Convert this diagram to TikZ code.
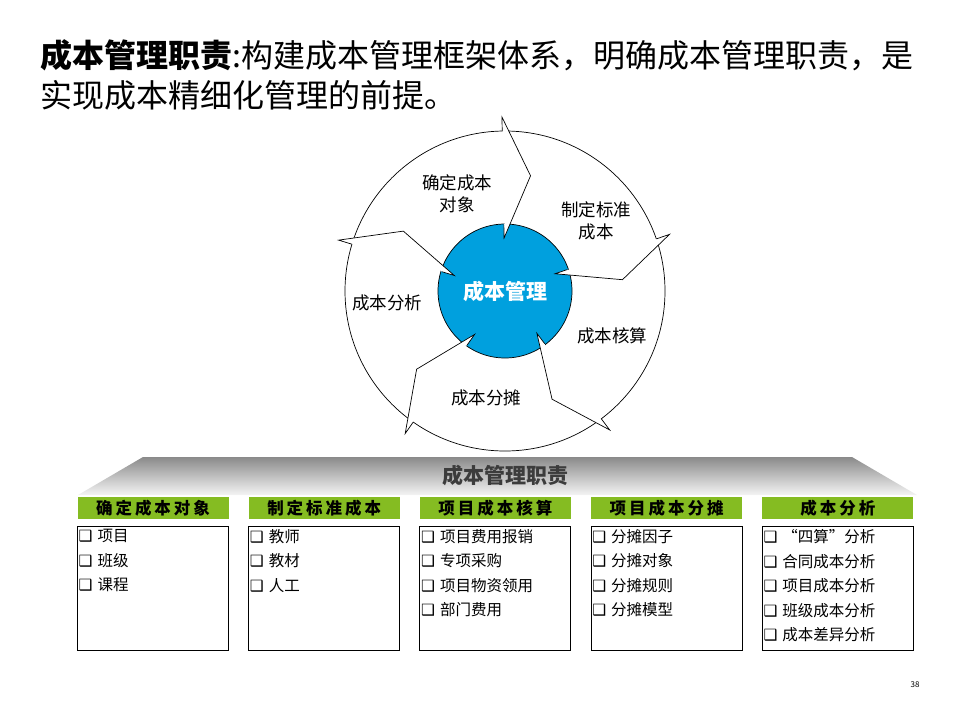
\documentclass[tikz,border=0pt]{standalone}
\usepackage{fontspec}
\setmainfont{Noto Sans CJK SC}
\newfontfamily\symfont{DejaVu Sans}
\newfontfamily\headfont[LetterSpace=18]{Noto Sans CJK SC}
\usetikzlibrary{positioning,calc}
\definecolor{coreblue}{RGB}{0,160,222}
\definecolor{headgreen}{RGB}{133,188,34}
\definecolor{bandtop}{RGB}{138,138,138}
\definecolor{bandbot}{RGB}{244,244,244}
\definecolor{bandtext}{RGB}{60,60,60}
\newcommand\chkbox{{\symfont\bfseries ❑}\hspace{5pt}}

\begin{document}
\begin{tikzpicture}[
  x=1pt,y=-1pt,
  rim/.style={line width=0.7pt},
  title/.style={anchor=base west,inner sep=0pt,font=\fontsize{32}{40}\selectfont},
  seglabel/.style={align=center,inner sep=0pt,font=\fontsize{17.5}{22}\selectfont},
  head/.style={fill=headgreen,minimum width=151pt,minimum height=22pt,inner sep=0pt,font=\headfont\bfseries\fontsize{16.5}{16.5}\selectfont},
  itembox/.style={draw,line width=1pt,minimum width=151pt,minimum height=124pt,inner sep=0pt},
  items/.style={align=left,anchor=north west,inner sep=0pt,font=\fontsize{15.5}{24.5}\selectfont}
]
\useasboundingbox (0,0) rectangle (960,720);

\node[title] (title1) at (40,67) {\textbf{成本管理职责}:构建成本管理框架体系，明确成本管理职责，是};
\node[title] (title2) at (40,107) {实现成本精细化管理的前提。};

\node[circle,draw,rim,minimum size=320pt,inner sep=0pt] (ring) at (505,291) {};
\node[circle,draw,rim,fill=coreblue,minimum size=134pt,inner sep=0pt,text=white,font=\bfseries\fontsize{21}{21}\selectfont] (core) at (505,291) {成本管理};

\begin{scope}[shift={(core.center)}]
\foreach \a in {-91,-19,53,125,197}{
  \fill[white] ({\a+13.5}:118) -- (\a:53) -- (\a:66) -- cycle;
  \fill[white] (\a:160) -- (\a:174) -- ({\a+13.5}:118) -- cycle;
  \draw[rim] (\a:160) -- (\a:174) -- ({\a+13.5}:118) -- (\a:53) -- (\a:66);
}
\end{scope}

\node[seglabel] (objlabel) at (457,194) {确定成本\\对象};
\node[seglabel] (stdlabel) at (596,221) {制定标准\\成本};
\node[seglabel] (calclabel) at (612,336) {成本核算};
\node[seglabel] (alloclabel) at (486,398) {成本分摊};
\node[seglabel] (anlabel) at (387,303) {成本分析};

\shade[top color=bandtop,bottom color=bandbot] (143,457) -- (852,457) -- (917,495) -- (78,495) -- cycle;
\node[font=\bfseries\fontsize{21}{21}\selectfont,text=bandtext] (band) at (505,475) {成本管理职责};

\foreach \t [count=\i from 0] in {确定成本对象,制定标准成本,项目成本核算,项目成本分摊,成本分析}{
  \node[head] (head\i) at (153+171.2*\i,508) {\t};
  \node[itembox,below=7pt of head\i] (box\i) {};
}

\node[items] (list0) at ([xshift=1.5pt,yshift=-3pt]box0.north west) {\chkbox 项目\\\chkbox 班级\\\chkbox 课程};
\node[items] (list1) at ([xshift=1.5pt,yshift=-3pt]box1.north west) {\chkbox 教师\\\chkbox 教材\\\chkbox 人工};
\node[items] (list2) at ([xshift=1.5pt,yshift=-3pt]box2.north west) {\chkbox 项目费用报销\\\chkbox 专项采购\\\chkbox 项目物资领用\\\chkbox 部门费用};
\node[items] (list3) at ([xshift=1.5pt,yshift=-3pt]box3.north west) {\chkbox 分摊因子\\\chkbox 分摊对象\\\chkbox 分摊规则\\\chkbox 分摊模型};
\node[items] (list4) at ([xshift=1.5pt,yshift=-3pt]box4.north west) {\chkbox “四算”分析\\\chkbox 合同成本分析\\\chkbox 项目成本分析\\\chkbox 班级成本分析\\\chkbox 成本差异分析};

\node[font=\fontsize{8}{8}\selectfont] (pageno) at (915,685) {38};
\end{tikzpicture}
\end{document}
